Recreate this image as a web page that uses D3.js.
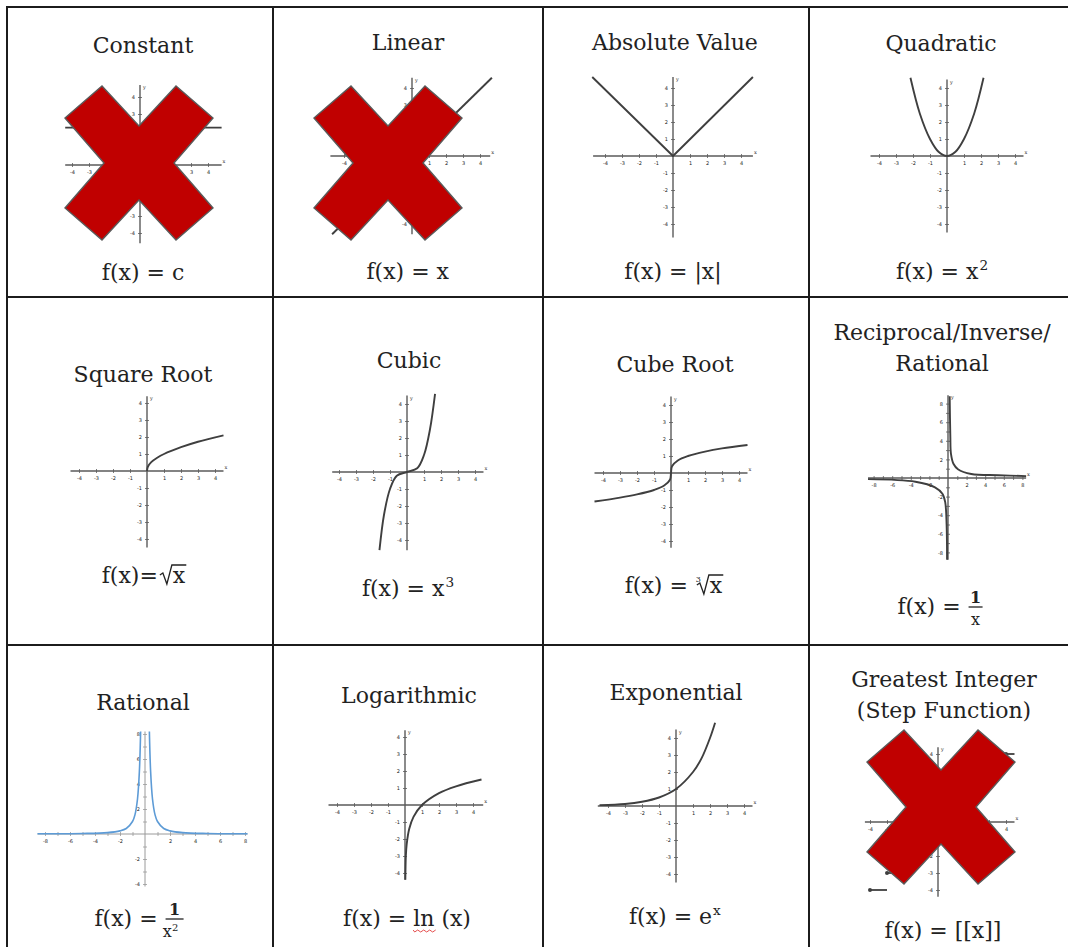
<!DOCTYPE html>
<html>
<head>
<meta charset="utf-8">
<script src="https://cdn.jsdelivr.net/npm/d3@7"></script>
<style>
	body{margin:0;background:#fff;}
	svg{display:block;}
	text{font-family:"DejaVu Serif",serif;fill:#222;white-space:pre;}
</style>
</head>
<body>
<div id="chart"></div>
<script>

// table grid (the right and bottom border lie outside the picture)
const colEdges = [7, 273, 543, 809, 1076];
const rowEdges = [7, 297, 645, 952];

const titles = [
	["Constant"], ["Linear"], ["Absolute Value"], ["Quadratic"],
	["Square Root"], ["Cubic"], ["Cube Root"], ["Reciprocal/Inverse/", "Rational"],
	["Rational"], ["Logarithmic"], ["Exponential"], ["Greatest Integer", "(Step Function)"]
];

const formulas = [
	{lhs : "f(x) = c"},
	{lhs : "f(x) = x"},
	{lhs : "f(x) = |x|"},
	{lhs : "f(x) = x", sup : "2"},
	{lhs : "f(x)=", root : "x"},
	{lhs : "f(x) = x", sup : "3"},
	{lhs : "f(x) = ", root : "x", index : "3"},
	{lhs : "f(x) = ", num : "1", den : "x"},
	{lhs : "f(x) = ", num : "1", den : "x", denSup : "2"},
	{lhs : "f(x) = ", squiggle : "ln", rest : " (x)"},
	{lhs : "f(x) = e", sup : "x"},
	{lhs : "f(x) = [[x]]"}
];

const crossedOut = [0, 1, 11];

// curve points, in graph units
const constantPts = [[-4.4, 2.2], [4.8, 2.2]];
const linearPts = [[-4.7, -4.6], [4.7, 4.6]];
const absolutePts = [[-4.75, 4.65], [0, 0], [4.7, 4.65]];
const quadraticPts = [[-2.15, 4.6], [-1.6, 2.5], [-1, 1], [-0.5, 0.25], [0, 0], [0.5, 0.25], [1, 1], [1.6, 2.5], [2.15, 4.6]];
const sqrtPts = [[0, 0], [0.05, 0.25], [0.25, 0.52], [0.6, 0.78], [1, 1], [2, 1.4], [3, 1.72], [4.5, 2.1]];
const cubicPts = [[-1.62, -4.6], [-1.35, -2.5], [-1, -1], [-0.6, -0.22], [0, 0], [0.6, 0.22], [1, 1], [1.35, 2.5], [1.65, 4.6]];
const cubeRootPts = [[-4.5, -1.68], [-3, -1.45], [-2, -1.26], [-1, -1], [-0.4, -0.74], [-0.06, -0.4], [0, 0], [0.06, 0.4], [0.4, 0.74], [1, 1], [2, 1.26], [3, 1.45], [4.5, 1.65]];
const reciprocalRight = [[0.18, 8.8], [0.25, 4.5], [0.32, 2.6], [0.6, 1.5], [1.07, 0.95], [2.5, 0.43], [5.4, 0.3], [8.4, 0.2]];
const reciprocalLeft = [[-8.6, -0.12], [-3.5, -0.4], [-1.4, -1.0], [-0.6, -1.7], [-0.3, -2.6], [-0.15, -5], [-0.1, -8.8]];
const rationalRight = [[0.35, 8.2], [0.45, 5], [0.6, 2.8], [0.8, 1.55], [1, 1], [1.5, 0.44], [2, 0.25], [3, 0.11], [5, 0.04], [8.2, 0.015]];
const rationalLeft = [[-8.6, 0.015], [-5, 0.04], [-3, 0.11], [-2, 0.25], [-1.5, 0.44], [-1, 1], [-0.8, 1.55], [-0.6, 2.8], [-0.45, 5], [-0.35, 8.2]];
const logPts = [[0.02, -4.4], [0.05, -3.0], [0.1, -2.3], [0.25, -1.4], [0.5, -0.7], [1, 0], [2, 0.7], [3, 1.1], [4.5, 1.5]];
const expPts = [[-4.5, 0.05], [-3, 0.12], [-2, 0.25], [-1, 0.5], [0, 1], [1, 2], [1.5, 2.8], [2, 4], [2.3, 4.9]];
const stepLevels = [-4, -3, -2, -1, 0, 1, 2, 3, 4];

const curves = [
	[constantPts], [linearPts], [absolutePts], [quadraticPts],
	[sqrtPts], [cubicPts], [cubeRootPts], [reciprocalLeft, reciprocalRight],
	[rationalLeft, rationalRight], [logPts], [expPts], []
];

// where each little graph and its texts sit
const layout = [
	{tx : 143, ty : 53, fx : 143, fy : 280, ox : 140, oy : 165, u : 17, xd : [-4.4, 4.8], yd : [-4.6, 4.7]},
	{tx : 408, ty : 50, fx : 408, fy : 279, ox : 412, oy : 156, u : 17, xd : [-4.8, 4.6], yd : [-4.6, 4.6]},
	{tx : 675, ty : 50, fx : 673, fy : 279, ox : 673, oy : 156, u : 17, xd : [-4.7, 4.7], yd : [-4.8, 4.65]},
	{tx : 941, ty : 51, fx : 942, fy : 279, ox : 947, oy : 156, u : 17, xd : [-4.5, 4.5], yd : [-4.5, 4.5]},
	{tx : 143, ty : 382, fx : 144, fy : 583, ox : 147, oy : 471, u : 17, xd : [-4.5, 4.5], yd : [-4.5, 4.4]},
	{tx : 409, ty : 368, fx : 408, fy : 596, ox : 407, oy : 472, u : 17, xd : [-4.4, 4.5], yd : [-4.6, 4.5]},
	{tx : 675, ty : 372, fx : 674, fy : 593, ox : 671, oy : 473, u : 17, xd : [-4.5, 4.5], yd : [-4.4, 4.5]},
	{tx : 942, ty : 340, fx : 940, fy : 614, ox : 948, oy : 478, u : 9.3, xd : [-8.6, 8.4], yd : [-8.8, 8.9]},
	{tx : 143, ty : 710, fx : 139, fy : 926, ox : 145, oy : 834, u : 12.5, xd : [-8.6, 8.2], yd : [-4.2, 8.2], blue : true},
	{tx : 409, ty : 703, fx : 407, fy : 926, ox : 405, oy : 805, u : 17, xd : [-4.5, 4.6], yd : [-4.4, 4.4]},
	{tx : 676, ty : 700, fx : 675, fy : 924, ox : 676, oy : 806, u : 17, xd : [-4.6, 4.5], yd : [-4.5, 4.5]},
	{tx : 944, ty : 687, fx : 943, fy : 938, ox : 938, oy : 822, u : 17, xd : [-4.3, 4.5], yd : [-4.4, 4.4]}
];

const style = {
	border : "#1c1c1c",
	axis : "#5a5a5a",
	tickLabel : "#a8a8a8",
	curve : "#3f3f3f",
	blue : "#5d9bd6",
	cross : "#c00000",
	crossEdge : "#5a5a5a",
	fontSize : 22
};

const width = 1068, height = 947;

const svg = d3.select("#chart").append("svg")
	.attr("width", width)
	.attr("height", height);

svg.append("rect").attr("width", width).attr("height", height).attr("fill", "#fff");

const cells = svg.append("g");
const grid = svg.append("g");

// grid lines
colEdges.forEach(x => {
	grid.append("line")
		.attr("x1", x).attr("x2", x)
		.attr("y1", rowEdges[0] - 1).attr("y2", rowEdges[rowEdges.length - 1])
		.attr("stroke", style.border).attr("stroke-width", 2);
});
rowEdges.forEach(y => {
	grid.append("line")
		.attr("x1", colEdges[0] - 1).attr("x2", colEdges[colEdges.length - 1])
		.attr("y1", y).attr("y2", y)
		.attr("stroke", style.border).attr("stroke-width", 2);
});

function drawGraph(g, L, series, i){
	const x = d3.scaleLinear().domain(L.xd).range([L.ox + L.xd[0] * L.u, L.ox + L.xd[1] * L.u]);
	const y = d3.scaleLinear().domain(L.yd).range([L.oy - L.yd[0] * L.u, L.oy - L.yd[1] * L.u]);

	const axisColor = L.blue ? "#9a9a9a" : style.axis;
	const step = L.blue || L.u < 12 ? 2 : 1;
	const xt = d3.range(Math.ceil(L.xd[0]), Math.floor(L.xd[1]) + 1).filter(v => v != 0);
	const yt = d3.range(Math.ceil(L.yd[0]), Math.floor(L.yd[1]) + 1).filter(v => v != 0);

	// axis lines
	g.append("line")
		.attr("x1", x.range()[0]).attr("x2", x.range()[1])
		.attr("y1", y(0)).attr("y2", y(0))
		.attr("stroke", axisColor).attr("stroke-width", L.blue ? 1 : 1.4);
	g.append("line")
		.attr("x1", x(0)).attr("x2", x(0))
		.attr("y1", y.range()[0]).attr("y2", y.range()[1])
		.attr("stroke", axisColor).attr("stroke-width", L.blue ? 1 : 1.4);

	const ax = g.append("g")
		.attr("transform", `translate(0,${y(0) - 2})`)
		.call(d3.axisBottom(x).tickValues(xt).tickSize(4).tickPadding(3)
			.tickFormat(v => v % step == 0 ? v : ""));
	const ay = g.append("g")
		.attr("transform", `translate(${x(0) + 2},0)`)
		.call(d3.axisLeft(y).tickValues(yt).tickSize(4).tickPadding(3)
			.tickFormat(v => v % step == 0 ? v : ""));

	[ax, ay].forEach(a => {
		a.select(".domain").remove();
		a.selectAll("line").attr("stroke", axisColor).attr("stroke-width", 0.8);
		a.selectAll("text")
			.style("font-family", "DejaVu Sans, sans-serif")
			.attr("font-size", 5)
			.attr("fill", style.tickLabel);
	});

	// tiny axis names
	g.append("text").attr("x", x.range()[1] + 1).attr("y", y(0) - 2)
		.attr("font-size", 5).attr("fill", style.tickLabel).text(L.blue ? "" : "x");
	g.append("text").attr("x", x(0) + 3).attr("y", y.range()[1] + 4)
		.attr("font-size", 5).attr("fill", style.tickLabel).text(L.blue ? "" : "y");

	const line = d3.line()
		.x(d => x(d[0]))
		.y(d => y(d[1]))
		.curve(series.length && series[0].length > 3 ? d3.curveCatmullRom.alpha(0.5) : d3.curveLinear);

	series.forEach(s => {
		g.append("path")
			.attr("d", line(s))
			.attr("fill", "none")
			.attr("stroke", L.blue ? style.blue : style.curve)
			.attr("stroke-width", L.blue ? 1.6 : 1.9)
			.attr("stroke-linejoin", "round");
	});

	if(i == 11){
		stepLevels.forEach(n => {
			g.append("line")
				.attr("x1", x(n)).attr("x2", x(Math.min(n + 1, L.xd[1])))
				.attr("y1", y(n)).attr("y2", y(n))
				.attr("stroke", style.curve).attr("stroke-width", 1.8);
			g.append("circle")
				.attr("cx", x(n)).attr("cy", y(n)).attr("r", 2)
				.attr("fill", style.curve);
		});
	}
}

function drawFormula(g, F, cx, by){
	const f = g.append("g");
	const fs = style.fontSize;
	const lhs = f.append("text").attr("x", 0).attr("y", 0).attr("font-size", fs).text(F.lhs);
	let w = lhs.node().getComputedTextLength();

	if(F.sup){
		f.append("text").attr("x", w + 1).attr("y", -9).attr("font-size", fs * 0.62).text(F.sup);
	}
	if(F.root){
		const rx = w + 2;
		if(F.index){
			f.append("text").attr("x", rx - 1).attr("y", -11).attr("font-size", 8).text(F.index);
		}
		const t = f.append("text").attr("x", rx + 13).attr("y", 0).attr("font-size", fs).text(F.root);
		const tw = t.node().getComputedTextLength();
		f.append("path")
			.attr("d", `M${rx},${-8} L${rx + 3},${-10} L${rx + 7},${1} L${rx + 12},${-18} L${rx + 14 + tw},${-18}`)
			.attr("fill", "none").attr("stroke", "#222").attr("stroke-width", 1.3);
	}
	if(F.num){
		const mx = w + 8;
		f.append("line").attr("x1", w + 1).attr("x2", w + 15 + (F.denSup ? 4 : 0))
			.attr("y1", -7).attr("y2", -7).attr("stroke", "#222").attr("stroke-width", 1.3);
		f.append("text").attr("x", mx + (F.denSup ? 2 : 0)).attr("y", -11).attr("font-size", 16)
			.attr("font-weight", "bold").attr("text-anchor", "middle").text(F.num);
		const d = f.append("text").attr("x", mx - (F.denSup ? 2 : 0)).attr("y", 11).attr("font-size", 16)
			.attr("text-anchor", "middle").text(F.den);
		if(F.denSup){
			d.append("tspan").attr("font-size", 10).attr("dy", -6).text(F.denSup);
		}
	}
	if(F.squiggle){
		const s = f.append("text").attr("x", w).attr("y", 0).attr("font-size", fs).text(F.squiggle);
		const sw = s.node().getComputedTextLength();
		const path = d3.path();
		path.moveTo(w, 4);
		for(let k = 0; k < sw / 3; k++){
			path.lineTo(w + k * 3 + 1.5, k % 2 ? 4 : 6);
		}
		f.append("path").attr("d", path.toString()).attr("fill", "none")
			.attr("stroke", "#e23b3b").attr("stroke-width", 0.9);
		f.append("text").attr("x", w + sw).attr("y", 0).attr("font-size", fs).text(F.rest);
	}

	const bb = f.node().getBBox();
	f.attr("transform", `translate(${cx - (bb.x + bb.width / 2)},${by})`);
}

function drawCross(g, cx, cy){
	const pts = [[-74, -45], [-37, -77], [0, -37], [37, -77], [74, -45], [35, 0],
		[74, 45], [37, 77], [0, 37], [-37, 77], [-74, 45], [-35, 0]];
	g.append("polygon")
		.attr("points", pts.map(p => [cx + p[0], cy + p[1]].join(",")).join(" "))
		.attr("fill", style.cross)
		.attr("stroke", style.crossEdge)
		.attr("stroke-width", 1.4)
		.attr("stroke-linejoin", "miter");
}

layout.forEach((L, i) => {
	const g = cells.append("g");

	titles[i].forEach((t, k) => {
		g.append("text")
			.attr("x", L.tx)
			.attr("y", L.ty + k * 31)
			.attr("text-anchor", "middle")
			.attr("font-size", style.fontSize)
			.text(t);
	});

	drawGraph(g, L, curves[i], i);
	drawFormula(g, formulas[i], L.fx, L.fy);

	if(crossedOut.includes(i)){
		drawCross(g, i == 11 ? 941 : L.ox - (i == 1 ? 24 : 1), i == 11 ? 807 : 163);
	}
});

</script>
</body>
</html>
